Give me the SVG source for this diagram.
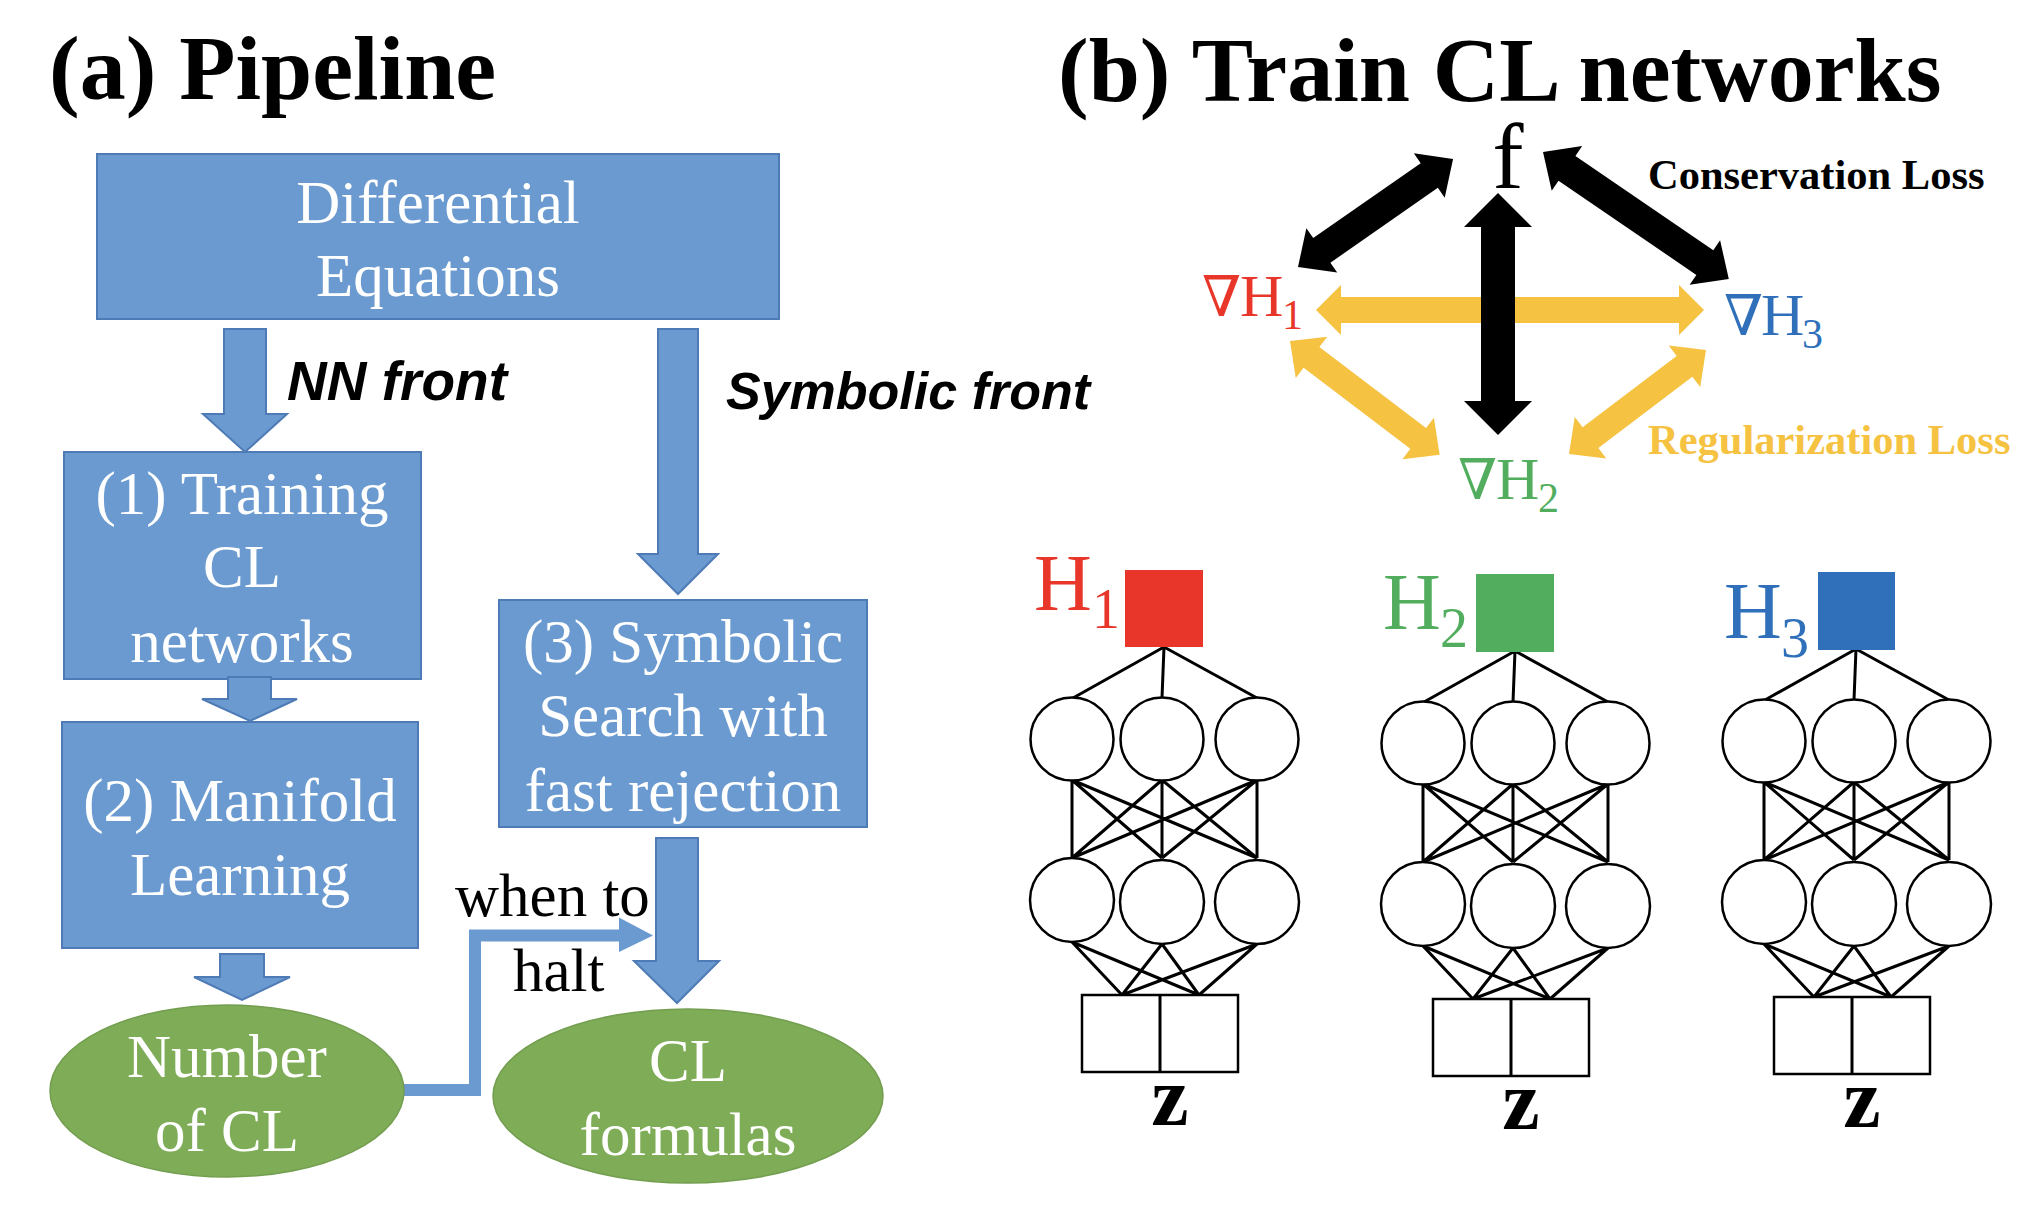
<svg xmlns="http://www.w3.org/2000/svg" xmlns:xlink="http://www.w3.org/1999/xlink" width="2032" height="1222" viewBox="0 0 2032 1222">
<style>
.title{font-family:"Liberation Serif",serif;font-weight:bold;font-size:92px;fill:#000}
.box{fill:#6A9ACF;stroke:#4E7BB6;stroke-width:2}
.oval{fill:#7EAC57;stroke:#739E4F;stroke-width:1.5}
.btxt{font-family:"Liberation Serif",serif;font-size:61px;fill:#fff;text-anchor:middle}
.barrow{fill:#6A9ACF;stroke:#4E7BB6;stroke-width:2;stroke-linejoin:miter}
.lbl{font-family:"Liberation Sans",Arial,sans-serif;font-weight:bold;font-style:italic;fill:#000}
.plain{font-family:"Liberation Serif",serif;font-size:61px;fill:#000}
.loss{font-family:"Liberation Serif",serif;font-weight:bold;font-size:42.5px}
.nab{font-family:"DejaVu Serif","Liberation Serif",serif;font-style:italic;font-size:56px}
.hs{font-family:"Liberation Serif",serif}
.net line,.net path{stroke:#000;stroke-width:3;fill:none}
.node{fill:#fff;stroke:#000;stroke-width:2.5}
.inp{fill:#fff;stroke:#000;stroke-width:2.5}
.z{font-family:"Liberation Serif",serif;font-weight:bold;font-size:84px;text-anchor:middle;fill:#000}
</style>
<defs>
<g id="netbody" class="net">
<path d="M1164,647 L1073,698 M1164,647 L1162,698 M1164,647 L1257,698
M1072,780 L1072,858 M1072,780 L1162,858 M1072,780 L1257,858
M1162,780 L1072,858 M1162,780 L1162,858 M1162,780 L1257,858
M1257,780 L1072,858 M1257,780 L1162,858 M1257,780 L1257,858
M1072,942 L1122,995 M1072,942 L1199,995
M1162,944 L1122,995 M1162,944 L1199,995
M1257,944 L1122,995 M1257,944 L1199,995"/>
<circle class="node" cx="1072" cy="739" r="41.5"/>
<circle class="node" cx="1162" cy="739" r="41.5"/>
<circle class="node" cx="1257" cy="739" r="41.5"/>
<circle class="node" cx="1072" cy="900" r="42"/>
<circle class="node" cx="1162" cy="902" r="42"/>
<circle class="node" cx="1257" cy="902" r="42"/>
<rect class="inp" x="1082" y="995" width="156" height="77"/>
<line x1="1160" y1="995" x2="1160" y2="1072"/>
<text class="z" x="1170" y="1125">z</text>
</g>
</defs>
<rect x="0" y="0" width="2032" height="1222" fill="#fff"/>

<text class="title" x="49" y="99">(a) Pipeline</text>
<text class="title" x="1058" y="101">(b) Train CL networks</text>

<g id="connectors">
<polygon class="barrow" points="224,329 266,329 266,414 287,414 245,452 203,414 224,414"/>
<polygon class="barrow" points="658,329 698,329 698,554 718,554 678,594 638,554 658,554"/>
<polyline points="395,1090 475,1090 475,935.5 621,935.5" fill="none" stroke="#6A9ACF" stroke-width="12"/>
<polygon points="619,917.5 653,935.5 619,952" fill="#6A9ACF"/>
<polygon fill="#F5C242" points="1316,310 1341,285 1341,297 1679,297 1679,285 1704,310 1679,335 1679,323 1341,323 1341,335"/>
<polygon fill="#F5C242" transform="translate(1290,341) rotate(37.24)" points="0,0 27,-26 27,-13 161,-13 161,-26 188,0 161,26 161,13 27,13 27,26"/>
<polygon fill="#F5C242" transform="translate(1706,350) rotate(142.8)" points="0,0 27,-26 27,-13 145,-13 145,-26 172,0 145,26 145,13 27,13 27,26"/>
<polygon fill="#000" transform="translate(1298,267) rotate(-34.87)" points="0,0 29,-27 29,-15 160,-15 160,-27 189,0 160,27 160,15 29,15 29,27"/>
<polygon fill="#000" transform="translate(1543,152) rotate(34.33)" points="0,0 29,-27 29,-15 196,-15 196,-27 225,0 196,27 196,15 29,15 29,27"/>
<polygon fill="#000" points="1498,193 1532,227 1515,227 1515,401 1532,401 1498,435 1464,401 1481,401 1481,227 1464,227"/>
</g>

<g id="node-diffeq">
<rect class="box" x="97" y="154" width="682" height="165"/>
<text class="btxt" x="438" y="223">Differential</text>
<text class="btxt" x="438" y="296">Equations</text>
</g>
<g id="node-train">
<rect class="box" x="64" y="452" width="357" height="227"/>
<text class="btxt" x="242" y="514">(1) Training</text>
<text class="btxt" x="242" y="587">CL</text>
<text class="btxt" x="242" y="662">networks</text>
</g>
<g id="node-manifold">
<rect class="box" x="62" y="722" width="356" height="226"/>
<text class="btxt" x="240" y="821">(2) Manifold</text>
<text class="btxt" x="240" y="895">Learning</text>
</g>
<g id="node-symbolic">
<rect class="box" x="499" y="600" width="368" height="227"/>
<text class="btxt" x="683" y="662">(3) Symbolic</text>
<text class="btxt" x="683" y="736">Search with</text>
<text class="btxt" x="683" y="811">fast rejection</text>
</g>
<g id="node-number">
<ellipse class="oval" cx="227" cy="1091" rx="177" ry="86"/>
<text class="btxt" x="227" y="1077">Number</text>
<text class="btxt" x="227" y="1151">of CL</text>
</g>
<g id="node-formulas">
<ellipse class="oval" cx="688" cy="1096" rx="195" ry="87"/>
<text class="btxt" x="688" y="1081">CL</text>
<text class="btxt" x="688" y="1155">formulas</text>
</g>
<g id="pipeline-arrows">
<polygon class="barrow" points="228,677 271,677 271,699 297,699 250,721 202,699 228,699"/>
<polygon class="barrow" points="220,954 264,954 264,977 290,977 242,1000 194,977 220,977"/>
<polygon class="barrow" points="656,838 698,838 698,961 719,961 677,1003 634,961 656,961"/>
</g>

<text class="lbl" x="287" y="400" font-size="55">NN front</text>
<text class="lbl" x="726" y="409" font-size="52">Symbolic front</text>
<text class="plain" x="455" y="916">when to</text>
<text class="plain" x="513" y="991">halt</text>

<g id="node-f"><text class="hs" x="1508" y="188" font-size="94" text-anchor="middle">f</text></g>
<text class="loss" x="1648" y="189" fill="#000">Conservation Loss</text>
<text class="loss" x="1648" y="454" fill="#F5C242">Regularization Loss</text>
<g id="node-gradH1" fill="#E8372A">
<text><tspan class="nab" x="1202" y="316">∇</tspan><tspan class="hs" x="1240" y="316" font-size="60">H</tspan><tspan class="hs" x="1282" y="329" font-size="42">1</tspan></text>
</g>
<g id="node-gradH3" fill="#3070BA">
<text><tspan class="nab" x="1724" y="335">∇</tspan><tspan class="hs" x="1761" y="335" font-size="60">H</tspan><tspan class="hs" x="1802" y="348" font-size="42">3</tspan></text>
</g>
<g id="node-gradH2" fill="#52AE5E">
<text><tspan class="nab" x="1458" y="499">∇</tspan><tspan class="hs" x="1496" y="499" font-size="60">H</tspan><tspan class="hs" x="1538" y="512" font-size="42">2</tspan></text>
</g>

<g id="net1">
<use xlink:href="#netbody"/>
<rect x="1125" y="570" width="78" height="77" fill="#E8372A"/>
<text class="hs" fill="#E8372A"><tspan x="1034" y="610" font-size="80">H</tspan><tspan x="1092" y="628" font-size="56">1</tspan></text>
</g>
<g id="net2">
<use xlink:href="#netbody" transform="translate(351,4)"/>
<rect x="1476" y="574" width="78" height="78" fill="#52AE5E"/>
<text class="hs" fill="#52AE5E"><tspan x="1383" y="629" font-size="80">H</tspan><tspan x="1440" y="647" font-size="56">2</tspan></text>
</g>
<g id="net3">
<use xlink:href="#netbody" transform="translate(692,2)"/>
<rect x="1818" y="572" width="77" height="78" fill="#3070BA"/>
<text class="hs" fill="#3070BA"><tspan x="1724" y="638" font-size="80">H</tspan><tspan x="1781" y="657" font-size="56">3</tspan></text>
</g>
</svg>
